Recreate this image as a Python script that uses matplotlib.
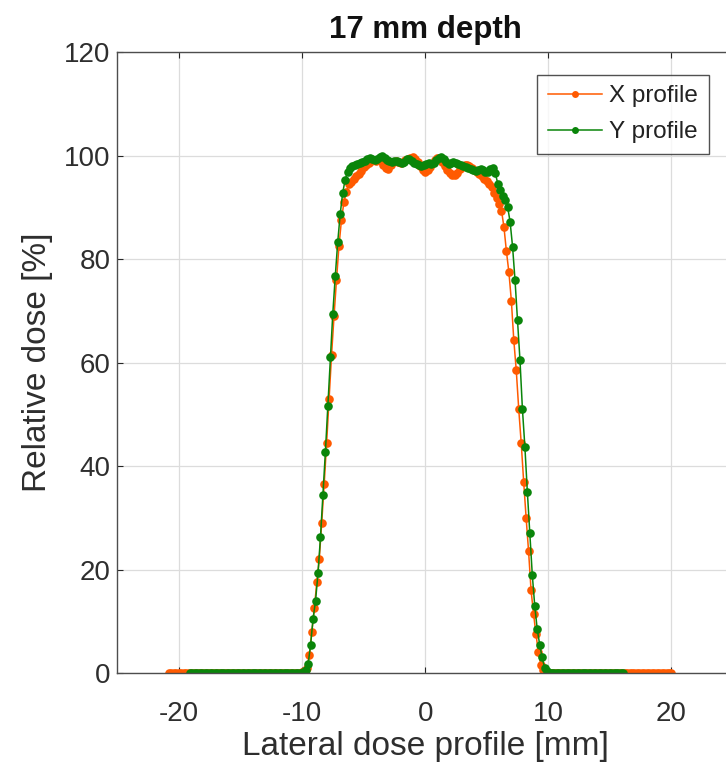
import numpy as np
import matplotlib
matplotlib.use("Agg")
import matplotlib.pyplot as plt

plt.rcParams['font.family'] = ['Liberation Sans', 'DejaVu Sans']

# ---------------- data ----------------
title = "17 mm depth"
xlabel = "Lateral dose profile [mm]"
ylabel = "Relative dose [%]"
series_names = ["X profile", "Y profile"]

# X profile: sampled every 0.2 mm starting at -20.8 mm
x_start_X = -20.8
step = 0.2
x_left_tail = [0.0] * 54          # -20.8 .. -10.2
x_core = [0.1, 0.3, 1.0, 3.5, 8.0, 12.5, 17.5, 22.0, 29.0, 36.5,      # -10.0 .. -8.2
          44.5, 53.0, 61.5, 69.0, 76.0, 82.5, 87.5, 91.0, 93.0, 94.5,  # -8.0 .. -6.2
          95.0, 95.5, 96.0, 96.5, 97.0, 97.8, 98.2, 98.6, 99.0, 99.2,  # -6.0 .. -4.2
          99.0, 99.2, 99.0, 98.2, 97.6, 97.4, 98.2, 98.8, 99.0, 98.8,  # -4.0 .. -2.2
          98.6, 98.8, 99.2, 99.4, 99.6, 99.8, 99.4, 98.8, 98.0, 97.2,  # -2.0 .. -0.2
          96.9, 97.2, 97.8, 98.6, 99.2, 99.6, 99.4, 98.8, 98.0, 97.2,  # 0.0 .. 1.8
          96.6, 96.2, 96.2, 96.6, 97.4, 97.8, 98.2, 98.2, 98.0, 97.6,  # 2.0 .. 3.8
          97.2, 96.8, 96.4, 96.0, 95.6, 95.2, 94.6, 94.0, 92.8, 91.8,  # 4.0 .. 5.8
          90.6, 89.4, 86.2, 81.5, 77.5, 72.0, 64.3, 58.5, 51.0, 44.5,  # 6.0 .. 7.8
          37.0, 30.0, 23.5, 16.0, 11.5, 7.5, 4.0, 1.5, 0.5, 0.1]       # 8.0 .. 9.8
x_right_tail = [0.0] * 51         # 10.0 .. 20.0
dose_X = x_left_tail + x_core + x_right_tail

# Y profile: sampled every 0.2 mm starting at -19.1 mm
x_start_Y = -19.1
y_left_tail = [0.0] * 45          # -19.1 .. -10.3
y_core = [0.0, 0.2, 0.6, 1.8, 5.5, 10.5, 14.0, 19.3, 26.3, 34.4,      # -10.1 .. -8.3
          42.8, 51.7, 61.0, 69.5, 76.7, 83.3, 88.7, 92.8, 95.3, 96.9,  # -8.1 .. -6.3
          97.6, 98.0, 98.2, 98.4, 98.6, 98.8, 99.0, 99.3, 99.6, 99.4,  # -6.1 .. -4.3
          99.2, 99.4, 99.8, 100.0, 99.6, 99.2, 99.0, 98.8, 99.0, 99.0, # -4.1 .. -2.3
          98.8, 98.6, 98.8, 99.4, 99.4, 99.0, 98.6, 98.4, 98.2, 98.0,  # -2.1 .. -0.3
          98.2, 98.4, 98.6, 98.4, 98.6, 99.2, 99.6, 99.8, 99.4, 98.8,  # -0.1 .. 1.7
          98.4, 98.6, 98.8, 98.6, 98.4, 98.2, 98.0, 97.8, 97.6, 97.4,  # 1.9 .. 3.7
          97.2, 97.0, 97.2, 97.4, 97.2, 96.8, 96.9, 97.4, 97.6, 96.6,  # 3.9 .. 5.7
          94.6, 93.3, 92.2, 91.4, 90.1, 87.2, 82.4, 75.9, 68.3, 60.5,  # 5.9 .. 7.7
          51.0, 43.7, 35.0, 27.0, 19.0, 13.0, 8.5, 5.5, 3.0, 1.0,      # 7.9 .. 9.7
          0.3]                                                         # 9.9
y_right_tail = [0.0] * 31         # 10.1 .. 16.1
dose_Y = y_left_tail + y_core + y_right_tail

x_ticks = [-20, -10, 0, 10, 20]
y_ticks = [0, 20, 40, 60, 80, 100, 120]

pos_X = x_start_X + step * np.arange(len(dose_X))
pos_Y = x_start_Y + step * np.arange(len(dose_Y))

# ---------------- figure ----------------
W, H = 726, 768
fig = plt.figure(figsize=(W / 100, H / 100), dpi=100)
ax = fig.add_axes([117.3 / W, 1 - 673 / H, (733 - 117.3) / W, (673 - 52.3) / H])

c_x = '#FF5A00'
c_y = '#0A850A'
lx, = ax.plot(pos_X, dose_X, '-o', color=c_x, lw=1.1, ms=6.2, mew=0, label=series_names[0])
ly, = ax.plot(pos_Y, dose_Y, '-o', color=c_y, lw=1.1, ms=6.2, mew=0, label=series_names[1])

ax.set_xlim(-25, 25)
ax.set_ylim(0, 120)
ax.set_xticks(x_ticks)
ax.set_yticks(y_ticks)
ax.set_xticklabels([str(t) for t in x_ticks])
ax.grid(True, color='#DCDCDC', lw=0.9)
ax.set_axisbelow(True)
ax.tick_params(direction='in', length=4, width=0.8, color='#262626',
               labelsize=20, labelcolor='#2E2E2E', top=True, right=True)
ax.tick_params(axis='x', pad=20)
ax.tick_params(axis='y', pad=5)
for s in ax.spines.values():
    s.set_color('#4D4D4D')
    s.set_linewidth(1.0)

ax.set_title(title, fontsize=22.5, fontweight='bold', color='#111111', pad=10)
ax.set_xlabel(xlabel, fontsize=24, color='#2E2E2E', labelpad=3)
ax.set_ylabel(ylabel, fontsize=24, color='#2E2E2E', labelpad=8)

leg = fig.legend(handles=[lx, ly], loc='upper left',
                 bbox_to_anchor=(537.3 / W, 1 - 75 / H),
                 fontsize=17.5, frameon=True, fancybox=False,
                 edgecolor='#262626', borderpad=0.42, handlelength=2.25,
                 handletextpad=0.3, labelspacing=0.58, borderaxespad=0)
leg.get_frame().set_linewidth(1.0)
for h in leg.legend_handles:
    h.set_markersize(5.0)
for t in leg.get_texts():
    t.set_color('#222222')

fig.savefig('out.png', dpi=100)
